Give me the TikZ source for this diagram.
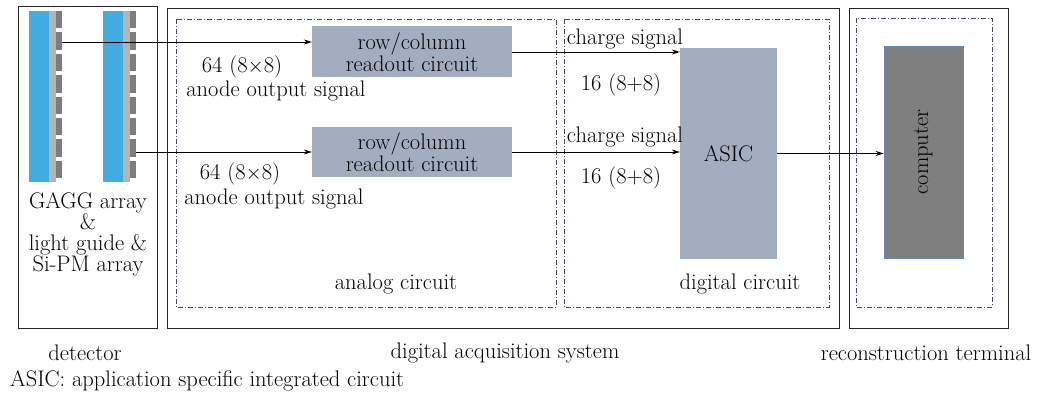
\documentclass[tikz,border=0pt]{standalone}
\usetikzlibrary{arrows.meta,positioning}
\definecolor{gaggblue}{RGB}{65,172,224}
\definecolor{guidegrey}{RGB}{180,180,180}
\definecolor{sipmgrey}{RGB}{125,125,128}
\definecolor{boxfill}{RGB}{162,174,192}
\definecolor{pcfill}{RGB}{127,127,127}
\definecolor{pcedge}{RGB}{100,140,185}
\definecolor{dashnavy}{RGB}{70,70,105}
\tikzset{
	txt/.style={font=\fontsize{22.5}{22}\selectfont, inner sep=0pt},
	frame/.style={draw=black!85, line width=0.8pt},
	subframe/.style={draw=dashnavy, line width=0.7pt, dash pattern=on 5pt off 2pt on 1pt off 2pt},
	block/.style={txt, fill=boxfill, align=center, inner sep=0pt},
	sig/.style={-{Stealth[length=8pt,width=5pt]}, line width=0.8pt},
}
\begin{document}
\begin{tikzpicture}[x=1pt,y=-1pt]
			\useasboundingbox (0,0) rectangle (1038,403);
			% frames
			\draw[frame] (18,6) rectangle (157,328);
			\draw[frame] (167,8) rectangle (839,328);
			\draw[frame] (849,8) rectangle (1008,328);
			\draw[subframe] (176,19) rectangle (556,307);
			\draw[subframe] (564,19) rectangle (829,307);
			\draw[subframe] (856,18) rectangle (992,307);
			% detector arrays
			\foreach \xo in {0,74} {
				\fill[gaggblue] (29+\xo,11) rectangle (49+\xo,182);
				\fill[guidegrey] (49+\xo,11) rectangle (56+\xo,182);
				\foreach \k in {0,...,7}
					\fill[sipmgrey] (56+\xo,11+21.4*\k) rectangle (62+\xo,28.5+21.4*\k);
			}
			\coordinate (d1) at (62,42);
			\coordinate (d2) at (136,152);
			\node[txt, align=center] (det) at (88,234) {GAGG array\\[-1pt]\&\\[-1pt]light guide \&\\[-1pt]Si-PM array};
			% boxes
			\node[block, minimum width=200pt, minimum height=51pt] (rc1) at (412,52) {row/column\\readout circuit};
			\node[block, minimum width=200pt, minimum height=50pt] (rc2) at (412,152) {row/column\\readout circuit};
			\node[block, minimum width=97pt, minimum height=211pt] (asic) at (728.5,153.5) {ASIC};
			\node[txt, fill=pcfill, draw=pcedge, line width=0.6pt, minimum width=79pt, minimum height=212pt] (pc) at (923.5,152) {};
			\node[txt, rotate=90] (pctext) at (pc.center) {computer};
			% connectors
			\draw[sig] (d1) -- (d1 -| rc1.west);
			\draw[sig] (d2) -- (d2 -| rc2.west);
			\draw[sig] (rc1.east) -- (rc1.east -| asic.west);
			\draw[sig] (rc2.east) -- (rc2.east -| asic.west);
			\draw[sig] (asic.east) -- (asic.east -| pc.west);
			% labels
			\node[txt] (n1) at (242,67) {64 (8$\times$8)};
			\node[txt] (a1) at (276,91) {anode output signal};
			\node[txt] (n2) at (240,174) {64 (8$\times$8)};
			\node[txt] (a2) at (274,199) {anode output signal};
			\node[txt] (cs1) at (625,39) {charge signal};
			\node[txt] (cs2) at (625,137) {charge signal};
			\node[txt] (m1) at (621,85) {16 (8+8)};
			\node[txt] (m2) at (621,178) {16 (8+8)};
			\node[txt] (ana) at (396,284) {analog circuit};
			\node[txt] (dig) at (740,284) {digital circuit};
			\node[txt] (ldet) at (85,353) {detector};
			\node[txt] (ldas) at (505,353) {digital acquisition system};
			\node[txt] (lrec) at (926,353) {reconstruction terminal};
			\node[txt, anchor=west] (note) at (10,381) {ASIC: application specific integrated circuit};
\end{tikzpicture}
\end{document}
